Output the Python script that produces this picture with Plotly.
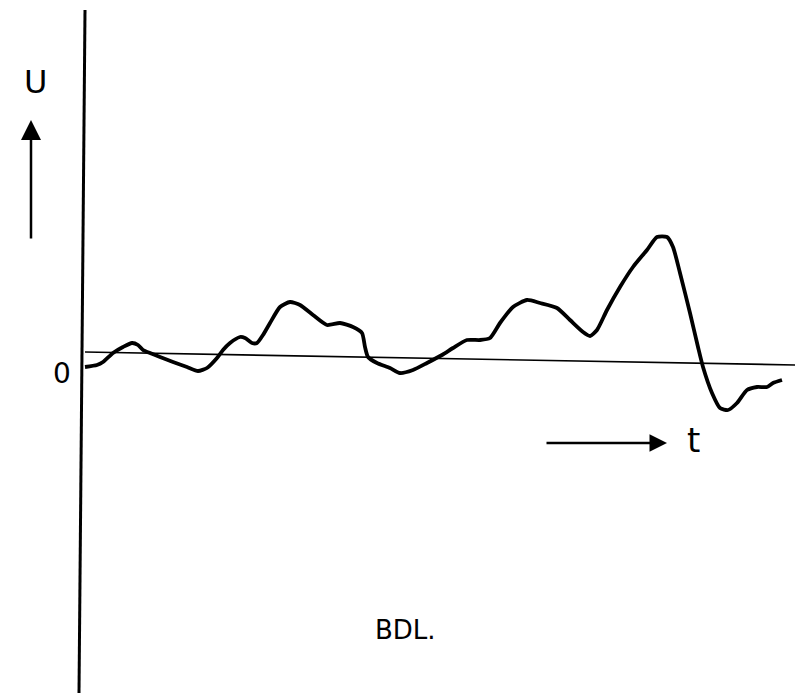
import plotly.graph_objects as go

# Curve (t arbitrary units, U arbitrary units)
t = [0, 1.2, 1.8, 2.8, 3.8, 4.7, 5.3, 5.8, 6.5, 7.5, 8.8, 10.2, 11.3, 12.2, 13.2, 13.8,
     14.5, 15.5, 16.0, 16.7, 17.2, 17.8, 18.5, 19.5, 20.5, 21.5, 22.8, 24.2, 25.5, 26.8,
     27.7, 28.0, 28.3, 29.2, 30.5, 31.5, 32.8, 34.2, 35.7, 36.8, 38.2, 39.5, 40.5, 41.5,
     42.8, 44.2, 45.5, 47.2, 48.5, 49.8, 50.5, 51.2, 52.2, 53.5, 54.8, 56.2, 57.2, 58.2,
     58.8, 59.5, 60.5, 61.3, 61.8, 62.7, 63.5, 64.3, 65.2, 66.2, 67.2, 68.2, 68.8, 69.7]
U = [-0.9, -0.7, -0.4, 0.5, 1.1, 1.5, 1.3, 0.8, 0.5, 0.1, -0.4, -0.9, -1.3, -1.0, 0.0, 0.8,
     1.5, 2.1, 2.0, 1.5, 1.5, 2.3, 3.5, 5.1, 5.6, 5.3, 4.3, 3.3, 3.5, 3.1,
     2.5, 1.1, 0.1, -0.5, -1.0, -1.5, -1.2, -0.5, 0.3, 1.0, 1.8, 1.8, 2.0, 3.5,
     5.1, 5.8, 5.5, 5.0, 3.8, 2.6, 2.2, 2.8, 4.8, 7.1, 9.1, 10.8, 12.1, 12.1,
     11.1, 8.5, 4.5, 1.1, -0.9, -3.5, -5.0, -5.2, -4.5, -3.2, -2.9, -2.9, -2.5, -2.2]

axis_label_y = "U"
axis_label_x = "t"
zero_label = "0"
caption = "BDL."

fig = go.Figure()
fig.add_trace(go.Scatter(x=t, y=U, mode="lines",
                         line=dict(color="black", width=3.8, shape="spline", smoothing=0.6),
                         hoverinfo="skip", showlegend=False))

# vertical axis line
fig.add_shape(type="line", x0=0, y0=34.8, x1=-0.6, y1=-33.5,
              line=dict(color="black", width=3))
# zero reference line
fig.add_shape(type="line", x0=0, y0=0.6, x1=71.2, y1=-0.7,
              line=dict(color="black", width=1.6))

font = dict(family="DejaVu Sans", color="black")
# U label and arrow
fig.add_annotation(x=-5.0, y=27.6, text=axis_label_y, showarrow=False,
                   font=dict(size=32, **font))
fig.add_annotation(x=-5.4, y=23.8, ax=-5.4, ay=11.8, axref="x", ayref="y",
                   xref="x", yref="y", text="", showarrow=True,
                   arrowhead=2, arrowsize=1.6, arrowwidth=2.5, arrowcolor="black")
# zero label
fig.add_annotation(x=-2.3, y=-1.5, text=zero_label, showarrow=False,
                   font=dict(size=28, **font))
# t label and arrow
fig.add_annotation(x=58.2, y=-8.5, ax=46.0, ay=-8.5, axref="x", ayref="y",
                   xref="x", yref="y", text="", showarrow=True,
                   arrowhead=2, arrowsize=1.4, arrowwidth=2.5, arrowcolor="black")
fig.add_annotation(x=60.8, y=-8.2, text=axis_label_x, showarrow=False,
                   font=dict(size=34, **font))
# caption
fig.add_annotation(x=32.0, y=-27.2, text=caption, showarrow=False,
                   font=dict(size=26, **font))

fig.update_layout(
    width=803, height=695,
    margin=dict(l=0, r=0, t=0, b=0),
    paper_bgcolor="white", plot_bgcolor="white",
    xaxis=dict(range=[-7.7, 72.6], visible=False, fixedrange=True),
    yaxis=dict(range=[-34.5, 35.0], visible=False, fixedrange=True),
)

fig.write_html("out.html")
